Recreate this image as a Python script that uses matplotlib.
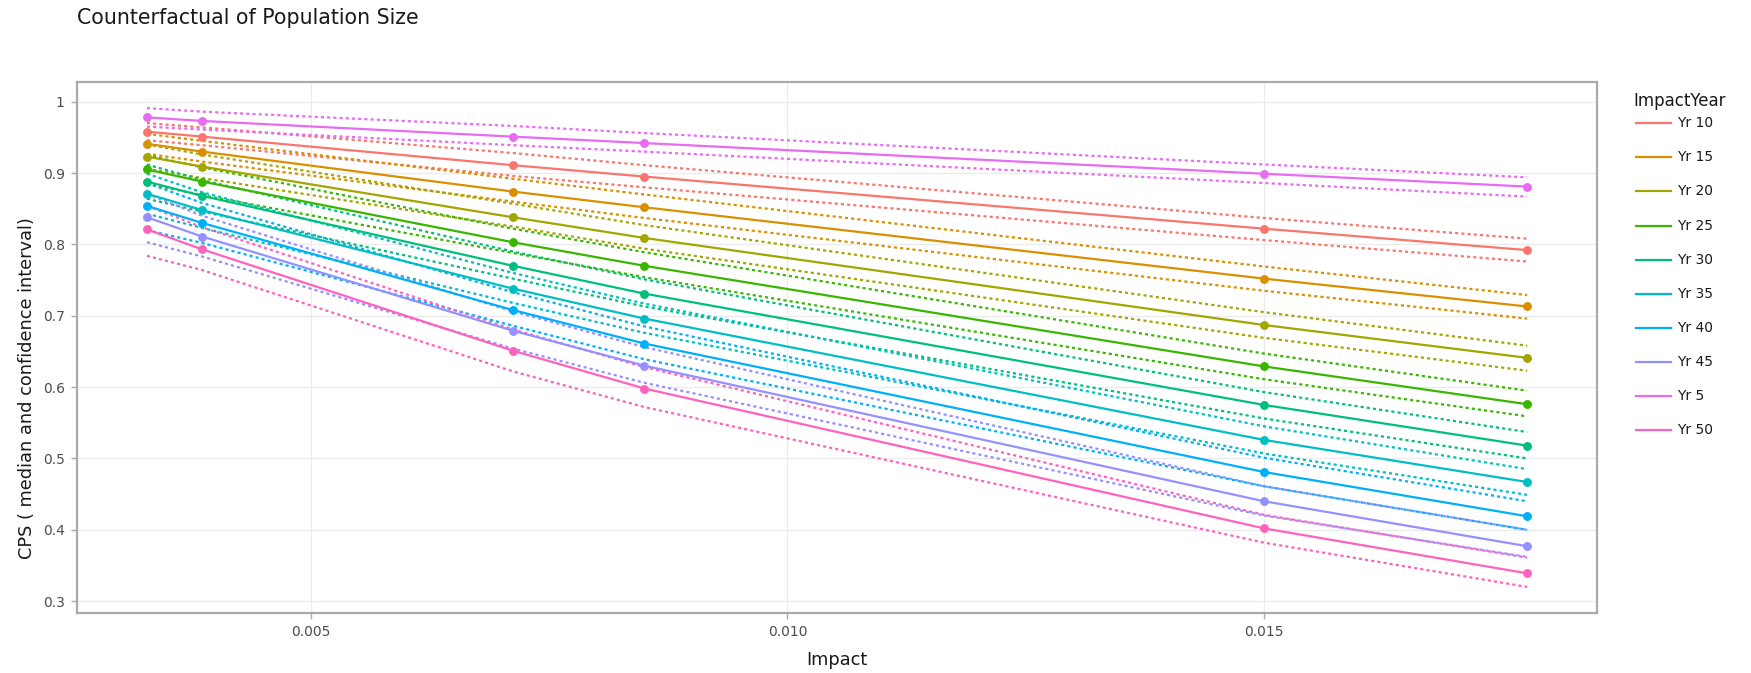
import matplotlib
matplotlib.use("Agg")
import matplotlib.pyplot as plt
from matplotlib.lines import Line2D

plt.rcParams['font.family'] = ['DejaVu Sans']

impact = [0.00328, 0.00386, 0.00712, 0.0085, 0.0150, 0.01776]

groups = ["Yr 10", "Yr 15", "Yr 20", "Yr 25", "Yr 30", "Yr 35", "Yr 40", "Yr 45", "Yr 5", "Yr 50"]
colors = ["#F8766D", "#D89000", "#A3A500", "#39B600", "#00BF7D", "#00BFC4", "#00B0F6", "#9590FF", "#E76BF3", "#FF62BC"]

median_yr5  = [0.978, 0.973, 0.951, 0.942, 0.899, 0.881]
median_yr10 = [0.958, 0.951, 0.911, 0.895, 0.822, 0.792]
median_yr15 = [0.941, 0.930, 0.874, 0.852, 0.752, 0.713]
median_yr20 = [0.923, 0.909, 0.838, 0.809, 0.687, 0.641]
median_yr25 = [0.905, 0.888, 0.803, 0.770, 0.629, 0.576]
median_yr30 = [0.888, 0.868, 0.770, 0.731, 0.575, 0.518]
median_yr35 = [0.871, 0.848, 0.738, 0.696, 0.526, 0.467]
median_yr40 = [0.854, 0.830, 0.708, 0.661, 0.481, 0.419]
median_yr45 = [0.838, 0.811, 0.679, 0.630, 0.440, 0.377]
median_yr50 = [0.821, 0.793, 0.651, 0.598, 0.402, 0.339]

upper_yr5  = [0.991, 0.986, 0.966, 0.956, 0.912, 0.894]
upper_yr10 = [0.970, 0.964, 0.928, 0.911, 0.837, 0.808]
upper_yr15 = [0.955, 0.945, 0.892, 0.870, 0.769, 0.729]
upper_yr20 = [0.940, 0.926, 0.857, 0.827, 0.705, 0.658]
upper_yr25 = [0.925, 0.908, 0.822, 0.789, 0.647, 0.595]
upper_yr30 = [0.912, 0.890, 0.790, 0.751, 0.593, 0.537]
upper_yr35 = [0.899, 0.873, 0.760, 0.717, 0.545, 0.485]
upper_yr40 = [0.886, 0.858, 0.733, 0.685, 0.501, 0.440]
upper_yr45 = [0.871, 0.840, 0.706, 0.656, 0.461, 0.400]
upper_yr50 = [0.854, 0.824, 0.681, 0.628, 0.421, 0.361]

lower_yr5  = [0.965, 0.961, 0.939, 0.930, 0.886, 0.867]
lower_yr10 = [0.946, 0.939, 0.896, 0.880, 0.806, 0.776]
lower_yr15 = [0.927, 0.916, 0.860, 0.837, 0.735, 0.696]
lower_yr20 = [0.906, 0.893, 0.825, 0.794, 0.669, 0.623]
lower_yr25 = [0.885, 0.869, 0.788, 0.754, 0.611, 0.559]
lower_yr30 = [0.864, 0.846, 0.752, 0.713, 0.556, 0.500]
lower_yr35 = [0.843, 0.823, 0.718, 0.676, 0.507, 0.449]
lower_yr40 = [0.820, 0.802, 0.686, 0.639, 0.461, 0.400]
lower_yr45 = [0.803, 0.783, 0.654, 0.606, 0.420, 0.362]
lower_yr50 = [0.784, 0.764, 0.622, 0.572, 0.382, 0.320]

medians = [median_yr10, median_yr15, median_yr20, median_yr25, median_yr30,
           median_yr35, median_yr40, median_yr45, median_yr5, median_yr50]
uppers = [upper_yr10, upper_yr15, upper_yr20, upper_yr25, upper_yr30,
          upper_yr35, upper_yr40, upper_yr45, upper_yr5, upper_yr50]
lowers = [lower_yr10, lower_yr15, lower_yr20, lower_yr25, lower_yr30,
          lower_yr35, lower_yr40, lower_yr45, lower_yr5, lower_yr50]

xticks = [0.005, 0.010, 0.015]
xticklabels = ["0.005", "0.010", "0.015"]
yticks = [0.3, 0.4, 0.5, 0.6, 0.7, 0.8, 0.9, 1.0]
yticklabels = ["0.3", "0.4", "0.5", "0.6", "0.7", "0.8", "0.9", "1"]

W, H = 1751, 673
fig = plt.figure(figsize=(W / 100, H / 100), dpi=100)
L, R, T, B = 77.3, 1596.7, 81.7, 613.0
ax = fig.add_axes([L / W, 1 - B / H, (R - L) / W, (B - T) / H])

for med, up, lo, c in zip(medians, uppers, lowers, colors):
    ax.plot(impact, up, color=c, lw=1.6, linestyle=(0, (1.4, 1.4)), zorder=2)
    ax.plot(impact, lo, color=c, lw=1.6, linestyle=(0, (1.4, 1.4)), zorder=2)
for med, c in zip(medians, colors):
    ax.plot(impact, med, color=c, lw=1.6, zorder=3)
    ax.plot(impact, med, 'o', color=c, ms=6.4, mec='none', zorder=4)

ax.set_xlim(0.00255, 0.01849)
ax.set_ylim(0.2834, 1.028)
ax.set_xticks(xticks)
ax.set_xticklabels(xticklabels)
ax.set_yticks(yticks)
ax.set_yticklabels(yticklabels)
ax.grid(True, color="#ebebeb", lw=0.9, zorder=0)
ax.set_axisbelow(True)
for s in ax.spines.values():
    s.set_color("#aaaaaa")
    s.set_linewidth(1.6)
ax.tick_params(axis='both', colors="#aaaaaa", length=4, width=1, labelcolor="#4d4d4d",
               labelsize=10, pad=5)

fig.text(77 / W, 1 - 18 / H, "Counterfactual of Population Size", fontsize=14.8,
         color="#1a1a1a", ha="left", va="center")
fig.text(837 / W, 1 - 660 / H, "Impact", fontsize=12.8, color="#1a1a1a", ha="center", va="center")
fig.text(27 / W, 1 - 388 / H, "CPS ( median and confidence interval)", fontsize=12.8,
         color="#1a1a1a", ha="center", va="center", rotation=90)

# legend (ImpactYear), positioned like the reference
fig.text(1633 / W, 1 - 100.7 / H, "ImpactYear", fontsize=12, color="#1a1a1a",
         ha="left", va="center")
for i, (g, c) in enumerate(zip(groups, colors)):
    yy = 1 - (123.3 + i * 34.08) / H
    fig.add_artist(Line2D([1636 / W, 1671 / W], [yy, yy], color=c, lw=1.6,
                          transform=fig.transFigure))
    fig.text(1677 / W, yy, g, fontsize=10, color="#1a1a1a", ha="left", va="center")

fig.savefig("out.png", dpi=100)
